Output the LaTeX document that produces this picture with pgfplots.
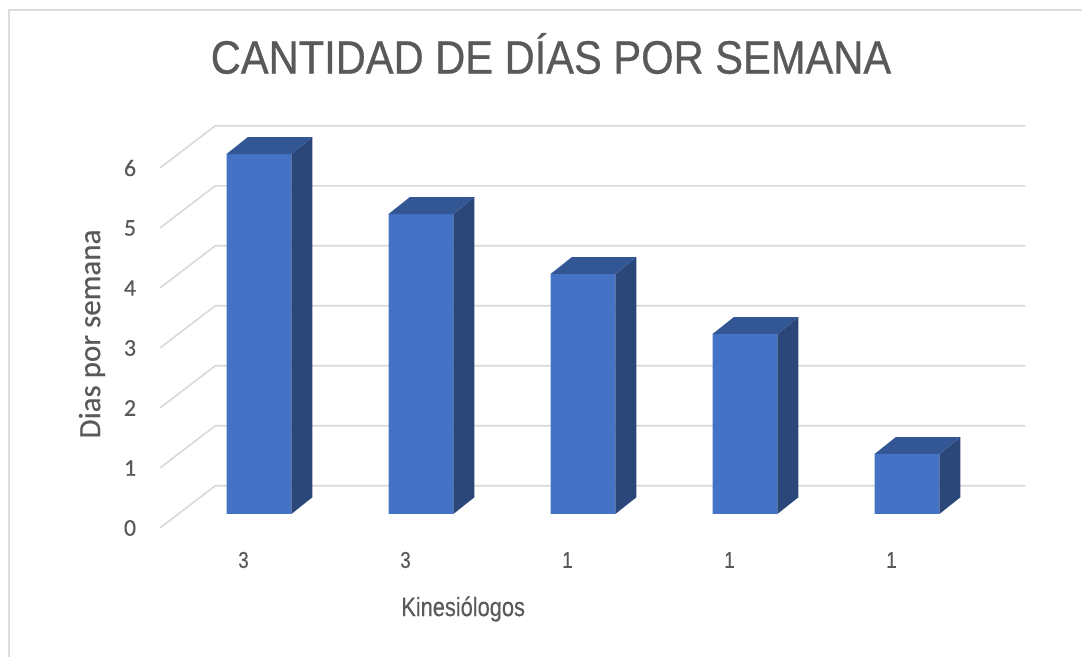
\documentclass[border=0pt]{standalone}
\usepackage{pgfplots}
\pgfplotsset{compat=1.18}
\usepackage{fontspec}
\setmainfont{Liberation Sans}
\newfontfamily\titlefont[FakeStretch=0.89,FakeBold=0.6]{Liberation Sans}
\newfontfamily\labelfont[FakeStretch=0.82,FakeBold=0.3]{Liberation Sans}
\newfontfamily\calfont[FakeBold=0.3]{Carlito}
\definecolor{txtGray}{HTML}{595959}
\definecolor{gridGray}{HTML}{D9D9D9}
\definecolor{frameGray}{HTML}{DCDCDC}
\definecolor{barFront}{HTML}{4472C4}
\definecolor{barTop}{HTML}{335695}
\definecolor{barSide}{HTML}{2B477A}
\begin{document}
\begin{tikzpicture}
  \fill[white] (0,0) rectangle (541pt,328.5pt);
  \path[use as bounding box] (0,0) rectangle (541pt,328.5pt);
  \draw[frameGray, line width=1.2pt] (4.5pt,0) -- (4.5pt,323.5pt) -- (541pt,323.5pt);

  \begin{axis}[
    at={(89pt,71.5pt)}, anchor=south west,
    scale only axis, width=405pt, height=180pt,
    xmin=-0.5, xmax=4.5, ymin=0, ymax=6,
    clip=false,
    axis line style={draw=none},
    tick style={draw=none},
    major tick length=0pt,
    xtick={0,1,2,3,4},
    xticklabels={3,3,1,1,1},
    ytick={0,1,2,3,4,5,6},
    /pgf/number format/assume math mode=true,
    xticklabel style={anchor=center, xshift=-7.75pt, yshift=-23pt,
      font=\labelfont\fontsize{11.5}{13}\selectfont, text=txtGray},
    yticklabel style={anchor=center, xshift=-24pt, yshift=-7pt,
      font=\calfont\fontsize{12}{14}\selectfont, text=txtGray},
    xlabel={Kinesiólogos},
    xlabel style={at={(axis description cs:0.352,-0.264)}, anchor=center,
      font=\labelfont\fontsize{13.3}{16}\selectfont, text=txtGray},
    ylabel={Dias por semana},
    ylabel style={at={(axis description cs:-0.1062,0.5)}, anchor=center,
      font=\calfont\fontsize{15.5}{18}\selectfont, text=txtGray},
    title={CANTIDAD DE DÍAS POR SEMANA},
    title style={at={(axis description cs:0.4605,1.19)}, anchor=base,
      font=\titlefont\fontsize{23.4}{28}\selectfont, text=txtGray},
  ]
    % back wall and side wall gridlines
    \addplot[gridGray, line width=0.8pt] coordinates {(-0.61,-0.23) (-0.27,0.47) (4.73,0.47)};
    \addplot[gridGray, line width=0.8pt] coordinates {(-0.61,0.77) (-0.27,1.47) (4.73,1.47)};
    \addplot[gridGray, line width=0.8pt] coordinates {(-0.61,1.77) (-0.27,2.47) (4.73,2.47)};
    \addplot[gridGray, line width=0.8pt] coordinates {(-0.61,2.77) (-0.27,3.47) (4.73,3.47)};
    \addplot[gridGray, line width=0.8pt] coordinates {(-0.61,3.77) (-0.27,4.47) (4.73,4.47)};
    \addplot[gridGray, line width=0.8pt] coordinates {(-0.61,4.77) (-0.27,5.47) (4.73,5.47)};
    \addplot[gridGray, line width=0.8pt] coordinates {(-0.61,5.77) (-0.27,6.47) (4.73,6.47)};

    % front faces
    \addplot[ybar, bar width=0.4, fill=barFront, draw=none]
      coordinates {(0,6) (1,5) (2,4) (3,3) (4,1)};

    % side faces
    \addplot[fill=barSide, draw=none] coordinates {(0.2,0) (0.33,0.28) (0.33,6.28) (0.2,6)} -- cycle;
    \addplot[fill=barSide, draw=none] coordinates {(1.2,0) (1.33,0.28) (1.33,5.28) (1.2,5)} -- cycle;
    \addplot[fill=barSide, draw=none] coordinates {(2.2,0) (2.33,0.28) (2.33,4.28) (2.2,4)} -- cycle;
    \addplot[fill=barSide, draw=none] coordinates {(3.2,0) (3.33,0.28) (3.33,3.28) (3.2,3)} -- cycle;
    \addplot[fill=barSide, draw=none] coordinates {(4.2,0) (4.33,0.28) (4.33,1.28) (4.2,1)} -- cycle;

    % top faces
    \addplot[fill=barTop, draw=none] coordinates {(-0.2,6) (-0.07,6.28) (0.33,6.28) (0.2,6)} -- cycle;
    \addplot[fill=barTop, draw=none] coordinates {(0.8,5) (0.93,5.28) (1.33,5.28) (1.2,5)} -- cycle;
    \addplot[fill=barTop, draw=none] coordinates {(1.8,4) (1.93,4.28) (2.33,4.28) (2.2,4)} -- cycle;
    \addplot[fill=barTop, draw=none] coordinates {(2.8,3) (2.93,3.28) (3.33,3.28) (3.2,3)} -- cycle;
    \addplot[fill=barTop, draw=none] coordinates {(3.8,1) (3.93,1.28) (4.33,1.28) (4.2,1)} -- cycle;
  \end{axis}
\end{tikzpicture}
\end{document}
